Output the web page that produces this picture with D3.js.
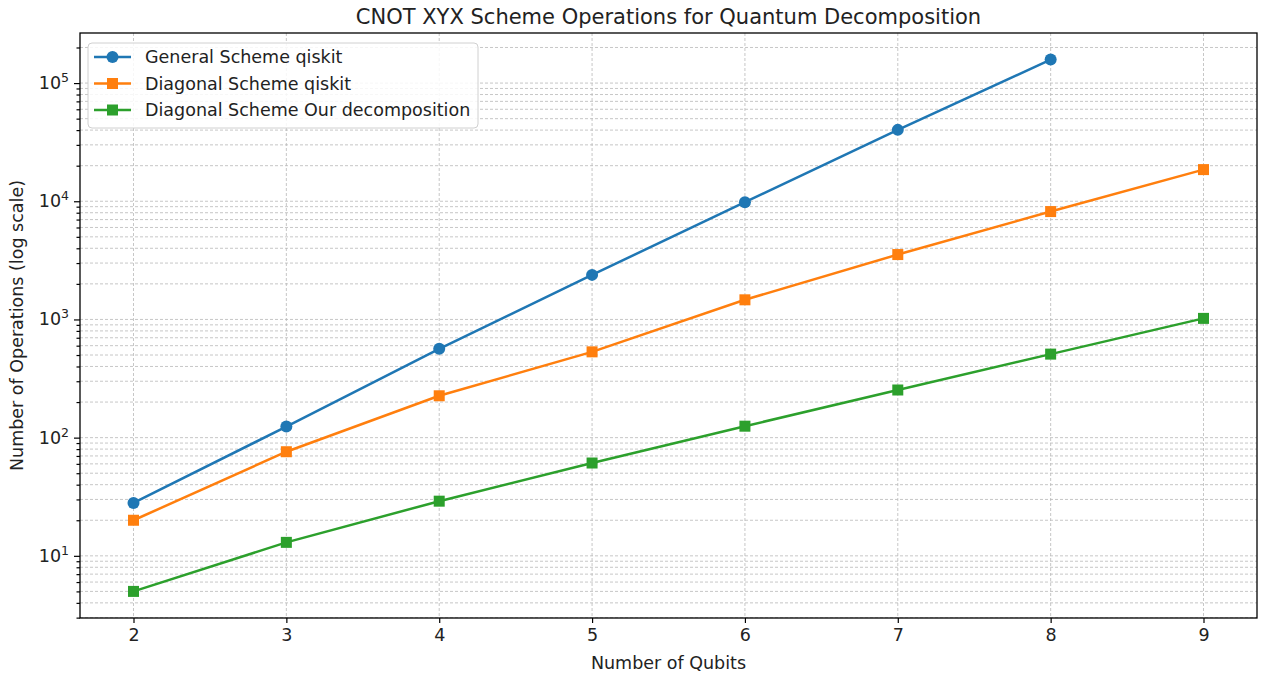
<!DOCTYPE html>
<html>
<head>
<meta charset="utf-8">
<script src="https://cdn.jsdelivr.net/npm/d3@7"></script>
<style>
    body { margin: 0; background: #fff; }
    svg { font-family: 'DejaVu Sans', sans-serif; }
</style>
</head>
<body>
<svg id="chart" width="1262" height="678"></svg>
<script>
// data
const qubits = [2, 3, 4, 5, 6, 7, 8, 9];
const generalQiskit = [28, 124, 564, 2383, 9820, 40180, 158000];
const diagonalQiskit = [20, 76, 226, 532, 1466, 3540, 8180, 18530];
const diagonalOurs = [5, 13, 29, 61, 125, 253, 509, 1021];
const seriesNames = ['General Scheme qiskit', 'Diagonal Scheme qiskit', 'Diagonal Scheme Our decomposition'];
const seriesColors = ['#1f77b4', '#ff7f0e', '#2ca02c'];
const seriesMarkers = ['circle', 'square', 'square'];
const xTicks = [2, 3, 4, 5, 6, 7, 8, 9];
const yTicks = [10, 100, 1000, 10000, 100000];

const series = [generalQiskit, diagonalQiskit, diagonalOurs].map((vals, i) => ({
    name: seriesNames[i],
    color: seriesColors[i],
    marker: seriesMarkers[i],
    points: vals.map((v, j) => ({ x: qubits[j], y: v }))
}));

const svg = d3.select('#chart');
const plotLeft = 80, plotRight = 1257, plotTop = 33, plotBottom = 618;
const fs = 17.5;

// matplotlib-like 5% margins (log space for y)
const allY = series.flatMap(s => s.points.map(p => p.y));
const lmin = Math.log10(d3.min(allY)), lmax = Math.log10(d3.max(allY));
const lpad = (lmax - lmin) * 0.05;
const xpad = (d3.max(qubits) - d3.min(qubits)) * 0.05;

const x = d3.scaleLinear()
    .domain([d3.min(qubits) - xpad, d3.max(qubits) + xpad])
    .range([plotLeft, plotRight]);
const y = d3.scaleLog()
    .domain([Math.pow(10, lmin - lpad), Math.pow(10, lmax + lpad)])
    .range([plotBottom, plotTop]);

// minor ticks
const minorTicks = [];
for (let e = 0; e <= 5; e++) {
    for (let m = 2; m <= 9; m++) {
        const v = m * Math.pow(10, e);
        if (v >= y.domain()[0] && v <= y.domain()[1]) minorTicks.push(v);
    }
}

const grid = svg.append('g').attr('class', 'grid')
    .attr('stroke', '#a8a8a8').attr('stroke-width', 0.8)
    .attr('stroke-dasharray', '3,2').attr('opacity', 0.8);

grid.selectAll('line.ymin').data(minorTicks.concat(yTicks)).enter().append('line')
    .attr('x1', plotLeft).attr('x2', plotRight)
    .attr('y1', d => y(d)).attr('y2', d => y(d));
grid.selectAll('line.xg').data(xTicks).enter().append('line')
    .attr('x1', d => x(d)).attr('x2', d => x(d))
    .attr('y1', plotTop).attr('y2', plotBottom);

// axes
const xAxis = svg.append('g')
    .attr('transform', `translate(0,${plotBottom})`)
    .call(d3.axisBottom(x).tickValues(xTicks).tickSize(5).tickPadding(6).tickFormat(d3.format('d')));
xAxis.selectAll('text').attr('font-size', fs).attr('fill', '#222')
    .attr('font-family', "'DejaVu Sans', sans-serif");

const yAxis = svg.append('g')
    .attr('transform', `translate(${plotLeft},0)`)
    .call(d3.axisLeft(y).tickValues(yTicks).tickSize(6).tickPadding(6).tickFormat(''));

const yMinor = svg.append('g')
    .attr('transform', `translate(${plotLeft},0)`)
    .call(d3.axisLeft(y).tickValues(minorTicks).tickSize(3.5).tickFormat(''));

[xAxis, yAxis, yMinor].forEach(g => {
    g.selectAll('line').attr('stroke', '#000').attr('stroke-width', 1.2);
    g.select('.domain').remove();
});

// tick labels 10^n
const yLab = svg.append('g').attr('font-size', fs).attr('fill', '#222');
yTicks.forEach(v => {
    const t = yLab.append('text')
        .attr('x', plotLeft - 11).attr('y', y(v) + 6)
        .attr('text-anchor', 'end');
    t.append('tspan').text('10');
    t.append('tspan').attr('font-size', 12.5).attr('dy', -7).text(Math.round(Math.log10(v)));
});

// frame
svg.append('rect')
    .attr('x', plotLeft).attr('y', plotTop)
    .attr('width', plotRight - plotLeft).attr('height', plotBottom - plotTop)
    .attr('fill', 'none').attr('stroke', '#000').attr('stroke-width', 1.3);

// lines
const line = d3.line().x(d => x(d.x)).y(d => y(d.y));
const plot = svg.append('g');
series.forEach(s => {
    plot.append('path')
        .datum(s.points)
        .attr('d', line)
        .attr('fill', 'none')
        .attr('stroke', s.color)
        .attr('stroke-width', 2.5);
    drawMarkers(plot, s.points.map(p => [x(p.x), y(p.y)]), s);
});

function drawMarkers(g, pts, s) {
    if (s.marker === 'circle') {
        g.selectAll(null).data(pts).enter().append('circle')
            .attr('cx', d => d[0]).attr('cy', d => d[1]).attr('r', 6)
            .attr('fill', s.color);
    } else {
        g.selectAll(null).data(pts).enter().append('rect')
            .attr('x', d => d[0] - 5.5).attr('y', d => d[1] - 5.5)
            .attr('width', 11).attr('height', 11)
            .attr('fill', s.color);
    }
}

// title & axis labels
svg.append('text')
    .attr('x', (plotLeft + plotRight) / 2).attr('y', 24)
    .attr('text-anchor', 'middle').attr('font-size', 21).attr('fill', '#222')
    .text('CNOT XYX Scheme Operations for Quantum Decomposition');

svg.append('text')
    .attr('x', (plotLeft + plotRight) / 2).attr('y', 669)
    .attr('text-anchor', 'middle').attr('font-size', fs).attr('fill', '#222')
    .text('Number of Qubits');

svg.append('text')
    .attr('transform', `translate(23,${(plotTop + plotBottom) / 2}) rotate(-90)`)
    .attr('text-anchor', 'middle').attr('font-size', fs).attr('fill', '#222')
    .text('Number of Operations (log scale)');

// legend
const legend = svg.append('g');
legend.append('rect')
    .attr('x', 88).attr('y', 43).attr('width', 390).attr('height', 85)
    .attr('rx', 4).attr('fill', '#fff').attr('fill-opacity', 0.85)
    .attr('stroke', '#d0d0d0').attr('stroke-width', 1);
series.forEach((s, i) => {
    const ly = 57 + i * 26.5;
    legend.append('line')
        .attr('x1', 94).attr('x2', 131).attr('y1', ly).attr('y2', ly)
        .attr('stroke', s.color).attr('stroke-width', 2.5);
    drawMarkers(legend, [[112.5, ly]], s);
    legend.append('text')
        .attr('x', 145).attr('y', ly + 6)
        .attr('font-size', fs).attr('fill', '#222')
        .text(s.name);
});
</script>
</body>
</html>
